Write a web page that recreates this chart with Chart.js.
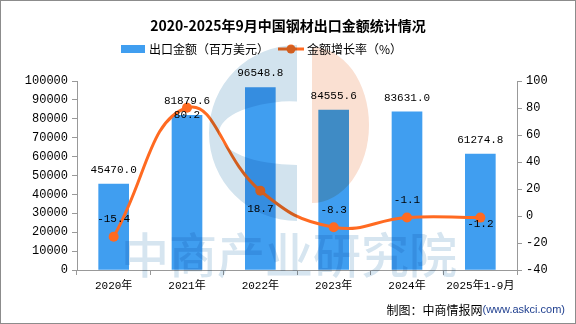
<!DOCTYPE html>
<html>
<head>
<meta charset="utf-8">
<script src="https://cdn.jsdelivr.net/npm/chart.js@4.4.0/dist/chart.umd.min.js"></script>
<style>
  html, body { margin: 0; padding: 0; background: #fff; }
  #wrap { width: 576px; height: 324px; box-sizing: border-box; border: 1px solid #8c8c8c; background: #fff; }
  canvas { display: block; }
</style>
</head>
<body>
<div id="wrap"><canvas id="exportChart" width="574" height="322" style="width:574px;height:322px"></canvas></div>
<script>
// --- Data ---
const years = ['2020年', '2021年', '2022年', '2023年', '2024年', '2025年1-9月'];
const exportAmount = [45470.0, 81879.6, 96548.8, 84555.6, 83631.0, 61274.8];   // 百万美元
const growthRate = [-15.4, 80.2, 18.7, -8.3, -1.1, -1.2];                     // %
const amountTicks = [0, 10000, 20000, 30000, 40000, 50000, 60000, 70000, 80000, 90000, 100000];
const rateTicks = [-40, -20, 0, 20, 40, 60, 80, 100];

// vertical nudge of each growth label from its point (px, negative = above)
const rateLabelShift = [-18, 7, 18, -17, -17, 6];

const BAR_BLUE = '#409ef0';
const LINE_ORANGE = '#ff6a21';
const AXIS_GREY = '#999999';
const NUM_FONT = "'Liberation Mono', 'Noto Sans CJK SC', monospace";
const CJK_FONT = "'Noto Sans CJK SC', sans-serif";

// --- Title, legend and footer ---
const headerPlugin = {
    id: 'header',
    afterDraw(chart) {
        const ctx = chart.ctx;
        ctx.save();
        ctx.fillStyle = '#000';
        ctx.textAlign = 'center';
        ctx.textBaseline = 'middle';
        ctx.font = `bold 14px ${CJK_FONT}`;
        ctx.fillText('2020-2025年9月中国钢材出口金额统计情况', 287, 25);

        // legend: bar swatch
        ctx.fillStyle = BAR_BLUE;
        ctx.fillRect(120, 44, 24, 8);
        ctx.fillStyle = '#000';
        ctx.textAlign = 'left';
        ctx.font = `12px ${CJK_FONT}`;
        ctx.fillText('出口金额（百万美元）', 148, 48);

        // legend: line with marker
        ctx.strokeStyle = LINE_ORANGE;
        ctx.lineWidth = 3;
        ctx.beginPath();
        ctx.moveTo(277, 48);
        ctx.lineTo(303, 48);
        ctx.stroke();
        ctx.fillStyle = LINE_ORANGE;
        ctx.beginPath();
        ctx.arc(290, 48, 4.5, 0, Math.PI * 2);
        ctx.fill();
        ctx.fillStyle = '#000';
        ctx.fillText('金额增长率（%）', 306, 48);

        // footer
        ctx.textAlign = 'right';
        ctx.font = `11px 'Liberation Sans', sans-serif`;
        ctx.fillStyle = '#1f3f8f';
        ctx.fillText('(www.askci.com)', 564, 309);
        const w = ctx.measureText('(www.askci.com)').width;
        ctx.font = `12px ${CJK_FONT}`;
        ctx.fillStyle = '#000';
        ctx.fillText('制图：中商情报网', 564 - w, 309);
        ctx.restore();
    }
};

// --- Value labels on bars and line points ---
const valueLabelPlugin = {
    id: 'valueLabels',
    afterDatasetsDraw(chart) {
        const ctx = chart.ctx;
        ctx.save();
        ctx.fillStyle = '#000';
        ctx.textAlign = 'center';
        ctx.textBaseline = 'middle';
        ctx.font = `11px ${NUM_FONT}`;

        chart.getDatasetMeta(1).data.forEach((bar, i) => {
            ctx.fillText(exportAmount[i].toFixed(1), bar.x, bar.y - 14);
        });
        chart.getDatasetMeta(0).data.forEach((pt, i) => {
            ctx.fillText(growthRate[i].toFixed(1), pt.x, pt.y + rateLabelShift[i]);
        });
        ctx.restore();
    }
};

// --- Background brand mark, blended over everything ---
const watermarkPlugin = {
    id: 'watermark',
    afterDraw(chart) {
        const ctx = chart.ctx;
        ctx.save();
        ctx.globalCompositeOperation = 'multiply';

        // blue half ring
        ctx.fillStyle = 'rgb(210,227,238)';
        ctx.beginPath();
        ctx.moveTo(296, 220);
        ctx.ellipse(296, 132, 88, 88, 0, Math.PI / 2, Math.PI * 1.5);
        ctx.closePath();
        ctx.moveTo(296, 100);
        ctx.ellipse(296, 132, 78, 32, 0, Math.PI * 1.5, Math.PI / 2, true);
        ctx.closePath();
        ctx.fill('evenodd');

        // orange half disc
        ctx.fillStyle = 'rgb(250,224,210)';
        ctx.beginPath();
        ctx.moveTo(311, 46);
        ctx.ellipse(311, 124, 57, 78, 0, -Math.PI / 2, Math.PI / 2);
        ctx.closePath();
        ctx.fill();

        ctx.fillStyle = 'rgb(214,229,240)';
        ctx.textAlign = 'center';
        ctx.textBaseline = 'middle';
        ctx.font = `500 48px ${CJK_FONT}`;
        ctx.fillText('中商产业研究院', 288, 254);
        ctx.restore();
    }
};

new Chart(document.getElementById('exportChart'), {
    data: {
        labels: years,
        datasets: [
            {
                type: 'line',
                label: '金额增长率（%）',
                data: growthRate,
                yAxisID: 'yRate',
                borderColor: LINE_ORANGE,
                backgroundColor: LINE_ORANGE,
                borderWidth: 3,
                pointRadius: 5,
                pointHoverRadius: 5,
                pointBackgroundColor: LINE_ORANGE,
                pointBorderWidth: 0,
                tension: 0.45,
                order: 0
            },
            {
                type: 'bar',
                label: '出口金额（百万美元）',
                data: exportAmount,
                yAxisID: 'yAmount',
                backgroundColor: BAR_BLUE,
                barThickness: 30,
                order: 1
            }
        ]
    },
    options: {
        responsive: false,
        animation: false,
        layout: { padding: { top: 80, left: 0, right: 0, bottom: 0 } },
        plugins: {
            legend: { display: false },
            title: { display: false },
            tooltip: { enabled: false }
        },
        scales: {
            x: {
                offset: true,
                grid: { offset: true, drawOnChartArea: false, drawTicks: true, tickLength: 5, color: AXIS_GREY },
                border: { color: AXIS_GREY },
                ticks: { color: '#000', font: { family: NUM_FONT, size: 11 }, padding: 4, maxRotation: 0 },
                afterFit(s) { s.height = 53; }
            },
            yAmount: {
                position: 'left',
                min: 0,
                max: 100000,
                afterBuildTicks(s) { s.ticks = amountTicks.map(v => ({ value: v })); },
                grid: { drawOnChartArea: false, drawTicks: true, tickLength: 5, color: AXIS_GREY },
                border: { color: AXIS_GREY },
                ticks: { color: '#000', font: { family: NUM_FONT, size: 12 }, padding: 4, callback: v => String(v) },
                afterFit(s) { s.width = 76; }
            },
            yRate: {
                position: 'right',
                min: -40,
                max: 100,
                afterBuildTicks(s) { s.ticks = rateTicks.map(v => ({ value: v })); },
                grid: { drawOnChartArea: false, drawTicks: true, tickLength: 5, color: AXIS_GREY },
                border: { color: AXIS_GREY },
                ticks: { color: '#000', font: { family: NUM_FONT, size: 12 }, padding: 4, callback: v => String(v) },
                afterFit(s) { s.width = 58; }
            }
        }
    },
    plugins: [valueLabelPlugin, headerPlugin, watermarkPlugin]
});
</script>
</body>
</html>
